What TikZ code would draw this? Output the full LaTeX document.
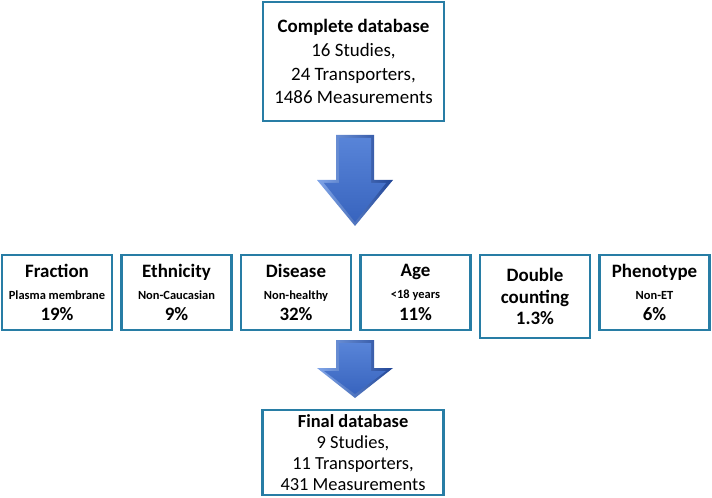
\documentclass[tikz,border=0pt]{standalone}
\usepackage{fontspec}
\setmainfont{Carlito}
\usetikzlibrary{positioning}

\definecolor{boxcol}{RGB}{40,125,165}
\definecolor{arrowmid}{RGB}{56,100,190}
\definecolor{arrowlight}{RGB}{88,132,216}
\definecolor{bevlight}{RGB}{128,165,232}
\definecolor{bevdark}{RGB}{34,70,150}

\tikzset{
  dbbox/.style={draw=boxcol, line width=2.2bp, fill=white, align=center,
    minimum width=181bp, minimum height=119bp, inner sep=2bp,
    font=\fontsize{19}{24}\selectfont},
  filterbox/.style={draw=boxcol, line width=2.2bp, fill=white, align=center,
    minimum width=110bp, minimum height=75bp, inner sep=1bp,
    font=\bfseries\fontsize{19}{22}\selectfont},
  % freccia a blocco verso il basso (gambo \shaftlen, punta \headlen)
  blockdown/.pic={
    % contorno smussato
    \shade[left color=bevlight, right color=bevdark]
      (-19,0) -- (19,0) -- (19,\shaftlen) -- (38,\shaftlen) -- (0,\shaftlen+\headlen)
      -- (-38,\shaftlen) -- (-19,\shaftlen) -- cycle;
    % faccia interna
    \shade[top color=arrowlight, bottom color=arrowmid]
      (-16,3) -- (16,3) -- (16,\shaftlen+3) -- (31,\shaftlen+3) -- (0,\shaftlen+\headlen-4)
      -- (-31,\shaftlen+3) -- (-16,\shaftlen+3) -- cycle;
  }
}

\begin{document}
\begin{tikzpicture}[x=1bp, y=-1bp]
    \useasboundingbox (0,0) rectangle (712,498);

    % Database iniziale
    \node[dbbox] (full) at (353.5,61.5) {\textbf{Complete database}\\16 Studies,\\24 Transporters,\\1486 Measurements};

    % Frecce
    \def\shaftlen{45}\def\headlen{46}
    \pic at (355,135) {blockdown};
    \def\shaftlen{28}\def\headlen{30}
    \pic at (355,340) {blockdown};

    % Criteri di esclusione
    \node[filterbox] (fra) at (57,292.5) {Fraction\\{\fontsize{12.5}{14}\selectfont Plasma membrane}\\19\%};
    \node[filterbox] (eth) at (176.5,292.5) {Ethnicity\\{\fontsize{12.5}{14}\selectfont Non-Caucasian}\\9\%};
    \node[filterbox] (dis) at (296,292.5) {Disease\\{\fontsize{12.5}{14}\selectfont Non-healthy}\\32\%};
    \node[filterbox] (age) at (415.5,292.5) {Age\\{\fontsize{12.5}{14}\selectfont <18 years}\\11\%};
    \node[filterbox, minimum height=83bp] (dbl) at (535,296.5) {Double\\counting\\1.3\%};
    \node[filterbox] (phe) at (654.5,292.5) {Phenotype\\{\fontsize{12.5}{14}\selectfont Non-ET}\\6\%};

    % Database finale
    \node[dbbox, minimum height=85bp, font=\fontsize{18.5}{21}\selectfont] (final) at (353,452.5) {\textbf{Final database}\\9 Studies,\\11 Transporters,\\431 Measurements};
\end{tikzpicture}
\end{document}
